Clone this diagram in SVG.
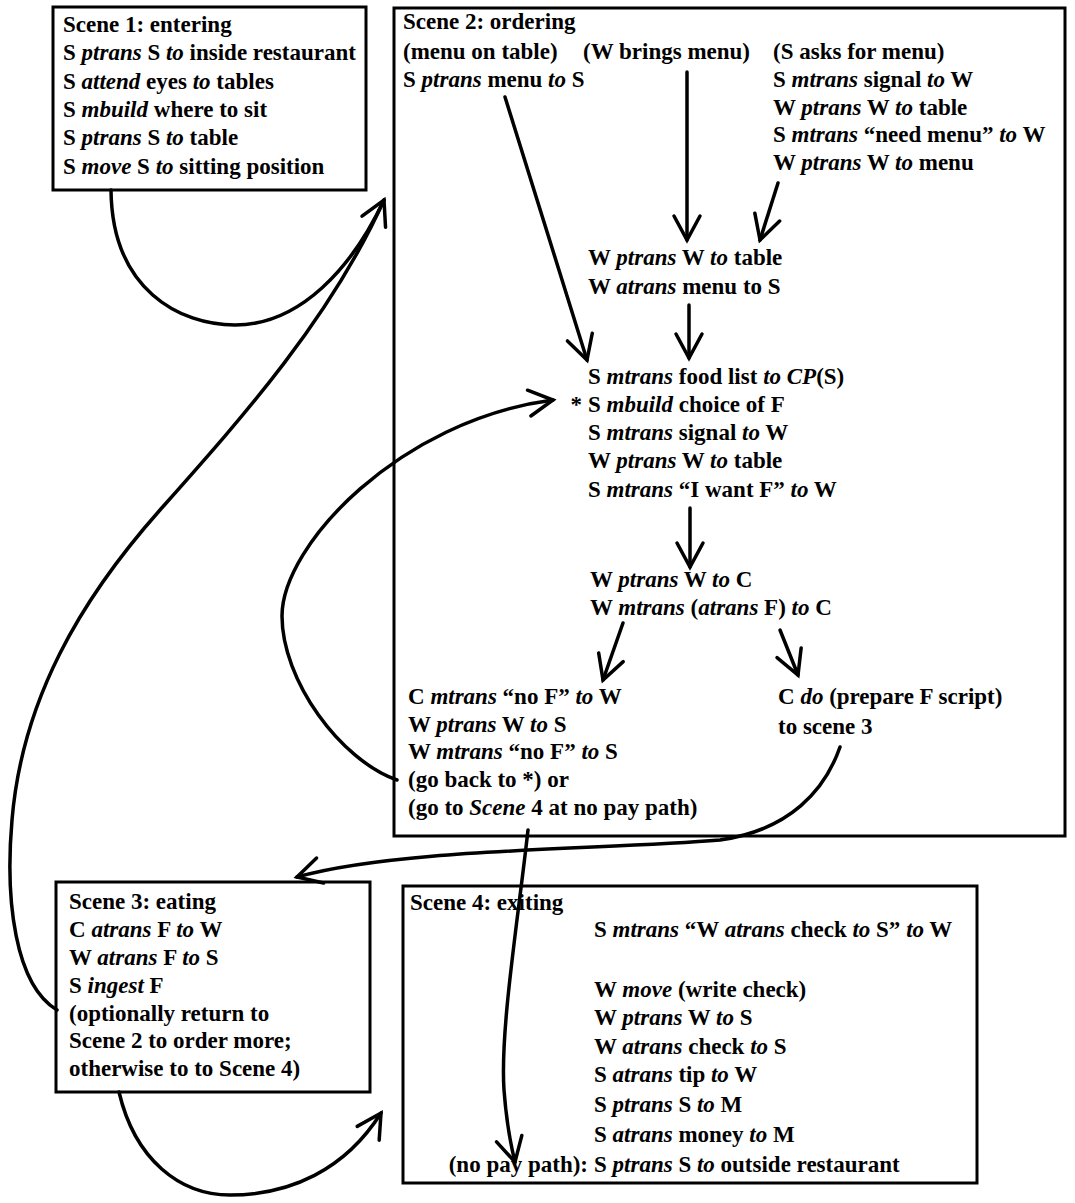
<svg xmlns="http://www.w3.org/2000/svg" width="1075" height="1203" viewBox="0 0 1075 1203">
<defs>
<style>
.t{font-family:"Liberation Serif","Times New Roman",serif;font-size:23px;font-weight:bold;fill:#000}
.i{font-style:italic}
.box{fill:none;stroke:#000;stroke-width:3}
.c{fill:none;stroke:#000;stroke-width:3.5;stroke-linecap:round}
</style>
<marker id="ah" markerUnits="userSpaceOnUse" viewBox="-30 -20 40 40" markerWidth="40" markerHeight="40" refX="0" refY="0" orient="auto">
<path d="M-24,-13 L0,0 L-24,13" fill="none" stroke="#000" stroke-width="3.5" stroke-linecap="round" stroke-linejoin="miter"/>
</marker>
</defs>
<rect width="1075" height="1203" fill="#fff"/>

<g id="scene1">
<rect class="box" x="53" y="7" width="313" height="183"/>
<text class="t" x="63" y="32">Scene 1: entering</text>
<text class="t" x="63" y="60">S <tspan class="i">ptrans</tspan> S <tspan class="i">to</tspan> inside restaurant</text>
<text class="t" x="63" y="89">S <tspan class="i">attend</tspan> eyes <tspan class="i">to</tspan> tables</text>
<text class="t" x="63" y="117">S <tspan class="i">mbuild</tspan> where to sit</text>
<text class="t" x="63" y="145">S <tspan class="i">ptrans</tspan> S <tspan class="i">to</tspan> table</text>
<text class="t" x="63" y="174">S <tspan class="i">move</tspan> S <tspan class="i">to</tspan> sitting position</text>
</g>

<g id="scene2">
<rect class="box" x="394" y="8" width="671" height="828"/>
<text class="t" x="403" y="29">Scene 2: ordering</text>
<text class="t" x="403" y="59">(menu on table)</text>
<text class="t" x="403" y="87">S <tspan class="i">ptrans</tspan> menu <tspan class="i">to</tspan> S</text>
<text class="t" x="583" y="59">(W brings menu)</text>
<text class="t" x="773" y="59">(S asks for menu)</text>
<text class="t" x="773" y="87">S <tspan class="i">mtrans</tspan> signal <tspan class="i">to</tspan> W</text>
<text class="t" x="773" y="115">W <tspan class="i">ptrans</tspan> W <tspan class="i">to</tspan> table</text>
<text class="t" x="773" y="142">S <tspan class="i">mtrans</tspan> “need menu” <tspan class="i">to</tspan> W</text>
<text class="t" x="773" y="170">W <tspan class="i">ptrans</tspan> W <tspan class="i">to</tspan> menu</text>
<text class="t" x="588" y="265">W <tspan class="i">ptrans</tspan> W <tspan class="i">to</tspan> table</text>
<text class="t" x="588" y="294">W <tspan class="i">atrans</tspan> menu to S</text>
<text class="t" x="588" y="384">S <tspan class="i">mtrans</tspan> food list <tspan class="i">to CP</tspan>(S)</text>
<text class="t" x="582" y="412" text-anchor="end">*</text>
<text class="t" x="588" y="412">S <tspan class="i">mbuild</tspan> choice of F</text>
<text class="t" x="588" y="440">S <tspan class="i">mtrans</tspan> signal <tspan class="i">to</tspan> W</text>
<text class="t" x="588" y="468">W <tspan class="i">ptrans</tspan> W <tspan class="i">to</tspan> table</text>
<text class="t" x="588" y="497">S <tspan class="i">mtrans</tspan> “I want F” <tspan class="i">to</tspan> W</text>
<text class="t" x="590" y="587">W <tspan class="i">ptrans</tspan> W <tspan class="i">to</tspan> C</text>
<text class="t" x="590" y="615">W <tspan class="i">mtrans</tspan> (<tspan class="i">atrans</tspan> F) <tspan class="i">to</tspan> C</text>
<text class="t" x="408" y="704">C <tspan class="i">mtrans</tspan> “no F” <tspan class="i">to</tspan> W</text>
<text class="t" x="408" y="732">W <tspan class="i">ptrans</tspan> W <tspan class="i">to</tspan> S</text>
<text class="t" x="408" y="759">W <tspan class="i">mtrans</tspan> “no F” <tspan class="i">to</tspan> S</text>
<text class="t" x="408" y="787">(go back to *) or</text>
<text class="t" x="408" y="815">(go to <tspan class="i">Scene</tspan> 4 at no pay path)</text>
<text class="t" x="778" y="704">C <tspan class="i">do</tspan> (prepare F script)</text>
<text class="t" x="778" y="734">to scene 3</text>
</g>

<g id="scene3">
<rect class="box" x="56" y="882" width="314" height="210"/>
<text class="t" x="69" y="909">Scene 3: eating</text>
<text class="t" x="69" y="937">C <tspan class="i">atrans</tspan> F <tspan class="i">to</tspan> W</text>
<text class="t" x="69" y="965">W <tspan class="i">atrans</tspan> F <tspan class="i">to</tspan> S</text>
<text class="t" x="69" y="993">S <tspan class="i">ingest</tspan> F</text>
<text class="t" x="69" y="1021">(optionally return to</text>
<text class="t" x="69" y="1048">Scene 2 to order more;</text>
<text class="t" x="69" y="1076">otherwise to to Scene 4)</text>
</g>

<g id="scene4">
<rect class="box" x="403" y="886" width="574" height="297"/>
<text class="t" x="410" y="910">Scene 4: exiting</text>
<text class="t" x="594" y="937">S <tspan class="i">mtrans</tspan> “W <tspan class="i">atrans</tspan> check <tspan class="i">to</tspan> S” <tspan class="i">to</tspan> W</text>
<text class="t" x="594" y="997">W <tspan class="i">move</tspan> (write check)</text>
<text class="t" x="594" y="1025">W <tspan class="i">ptrans</tspan> W <tspan class="i">to</tspan> S</text>
<text class="t" x="594" y="1054">W <tspan class="i">atrans</tspan> check <tspan class="i">to</tspan> S</text>
<text class="t" x="594" y="1082">S <tspan class="i">atrans</tspan> tip <tspan class="i">to</tspan> W</text>
<text class="t" x="594" y="1112">S <tspan class="i">ptrans</tspan> S <tspan class="i">to</tspan> M</text>
<text class="t" x="594" y="1142">S <tspan class="i">atrans</tspan> money <tspan class="i">to</tspan> M</text>
<text class="t" x="588" y="1172" text-anchor="end">(no pay path):</text>
<text class="t" x="594" y="1172">S <tspan class="i">ptrans</tspan> S <tspan class="i">to</tspan> outside restaurant</text>
</g>

<g id="connectors">
<path class="c" d="M111,190 C112,290 180,325 235,325 C300,325 352,268 384,200" marker-end="url(#ah)"/>
<path class="c" d="M57,1010 C15,985 5,900 12,820 C22,700 80,600 160,510 C240,420 330,320 384,200"/>
<path class="c" d="M505,97 L587,360" marker-end="url(#ah)"/>
<path class="c" d="M687,72 L687,240" marker-end="url(#ah)"/>
<path class="c" d="M778,183 L760,240" marker-end="url(#ah)"/>
<path class="c" d="M689,305 L689,358" marker-end="url(#ah)"/>
<path class="c" d="M690,508 L690,567" marker-end="url(#ah)"/>
<path class="c" d="M623,623 L603,680" marker-end="url(#ah)"/>
<path class="c" d="M780,630 L798,675" marker-end="url(#ah)"/>
<path class="c" d="M397,780 C340,760 282,680 282,616 C282,545 400,420 553,400" marker-end="url(#ah)"/>
<path class="c" d="M840,747 C825,790 790,830 720,840 C600,850 400,848 297,877" marker-end="url(#ah)"/>
<path class="c" d="M528,830 C518,920 500,1030 504,1090 C507,1130 512,1150 515,1162" marker-end="url(#ah)"/>
<path class="c" d="M119,1092 C135,1160 180,1195 230,1195 C290,1195 345,1170 381,1113" marker-end="url(#ah)"/>
</g>
</svg>
